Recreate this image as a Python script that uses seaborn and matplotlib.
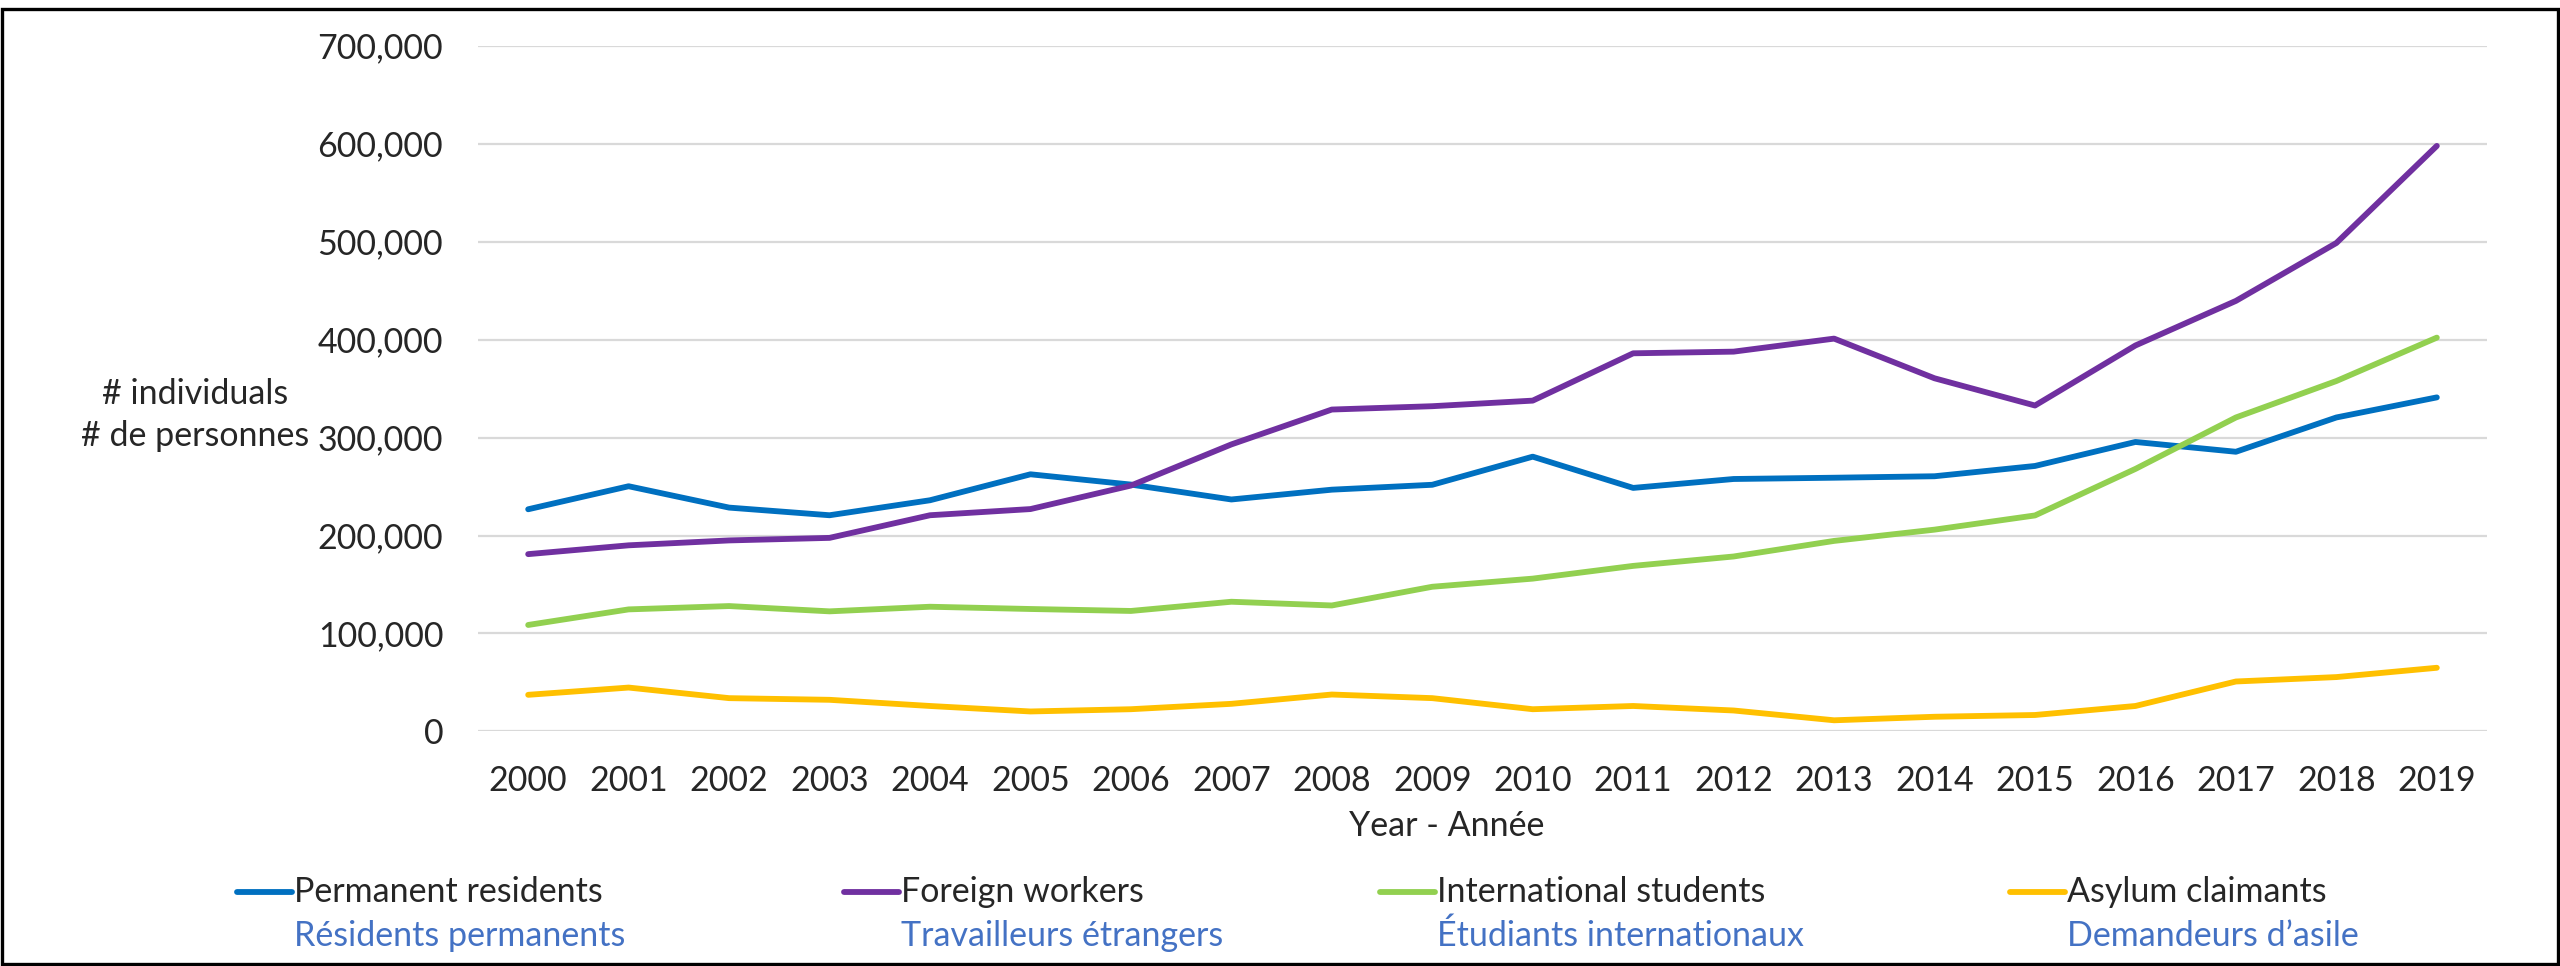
import matplotlib
matplotlib.use("Agg")
import matplotlib.pyplot as plt
from matplotlib.lines import Line2D
from matplotlib.patches import Rectangle
from matplotlib.ticker import FuncFormatter
import seaborn as sns
import pandas as pd

years = list(range(2000, 2020))
permanent_residents = [226800, 250300, 228500, 220700, 236000, 262500, 252000, 236800,
                       246800, 251800, 280500, 248600, 257700, 259000, 260500, 271000,
                       295500, 285500, 320500, 341000]
foreign_workers = [181000, 190000, 195000, 197600, 220700, 227000, 251000, 293000,
                   328600, 332000, 337700, 386000, 387700, 401000, 360500, 332700,
                   394000, 439500, 498600, 597700]
international_students = [108700, 124600, 128000, 122600, 127300, 125000, 123000, 132400,
                          128600, 147700, 156000, 169000, 178600, 194500, 206000, 220500,
                          268000, 320500, 357700, 402000]
asylum_claimants = [37400, 44800, 34000, 32300, 26000, 20400, 22700, 28200,
                    37700, 34000, 22700, 26000, 21400, 11400, 15000, 16800,
                    26000, 51000, 55500, 65000]

series_en = ["Permanent residents", "Foreign workers", "International students", "Asylum claimants"]
series_fr = ["Résidents permanents", "Travailleurs étrangers", "Étudiants internationaux", "Demandeurs d\u2019asile"]
colors = ["#0070C0", "#7030A0", "#92D050", "#FFC000"]

rows = []
for name, vals in zip(series_en, [permanent_residents, foreign_workers,
                                  international_students, asylum_claimants]):
    for i, (yr, v) in enumerate(zip(years, vals)):
        rows.append({"pos": i, "year": yr, "value": v, "series": name})
df = pd.DataFrame(rows)

sns.set_style("white")
plt.rcParams["font.family"] = ["Lato", "DejaVu Sans"]
FS = 24.5

fig = plt.figure(figsize=(25.6, 9.66), dpi=100)
ax = fig.add_axes([0.1867, 0.2428, 0.9715 - 0.1867, 0.9527 - 0.2428])

sns.lineplot(data=df, x="pos", y="value", hue="series", hue_order=series_en,
             palette=colors, linewidth=4.2, legend=False, ax=ax)

ax.set_xlim(-0.5, len(years) - 0.5)
ax.set_ylim(0, 700000)
ax.set_yticks(range(0, 700001, 100000))
ax.yaxis.set_major_formatter(FuncFormatter(lambda v, p: f"{int(v):,}"))
ax.set_xticks(range(len(years)))
ax.set_xticklabels([str(y) for y in years])
ax.grid(axis="y", color="#D9D9D9", linewidth=1.6)
ax.grid(axis="x", visible=False)
ax.set_axisbelow(True)
for s in ax.spines.values():
    s.set_visible(False)
ax.tick_params(axis="y", length=0, pad=25, labelsize=FS)
ax.tick_params(axis="x", length=0, pad=24, labelsize=FS)
ax.set_xlabel("")
ax.set_ylabel("")

fig.text(1447 / 2560, 1 - 826 / 966, "Year - Année", ha="center", va="center", fontsize=FS)
fig.text(195 / 2560, 1 - 415 / 966, "# individuals\n# de personnes", ha="center", va="center",
         fontsize=FS, linespacing=1.4)

# legend, drawn by hand (two-line labels with french in blue)
leg_x = [237, 844, 1380, 2010]
for x0, en, fr, c in zip(leg_x, series_en, series_fr, colors):
    fig.add_artist(Line2D([x0 / 2560, (x0 + 55) / 2560], [1 - 892 / 966] * 2,
                          color=c, linewidth=4.2, solid_capstyle="round"))
    fig.text((x0 + 57) / 2560, 1 - 892 / 966, en, ha="left", va="center", fontsize=FS)
    fig.text((x0 + 57) / 2560, 1 - 936 / 966, fr, ha="left", va="center", fontsize=FS,
             color="#4472C4")

fig.add_artist(Rectangle((1.5 / 2560, 2 / 966), 2556 / 2560, 955 / 966, transform=fig.transFigure,
                         fill=False, edgecolor="#000000", linewidth=2.4))

fig.savefig("out.png", dpi=100)
